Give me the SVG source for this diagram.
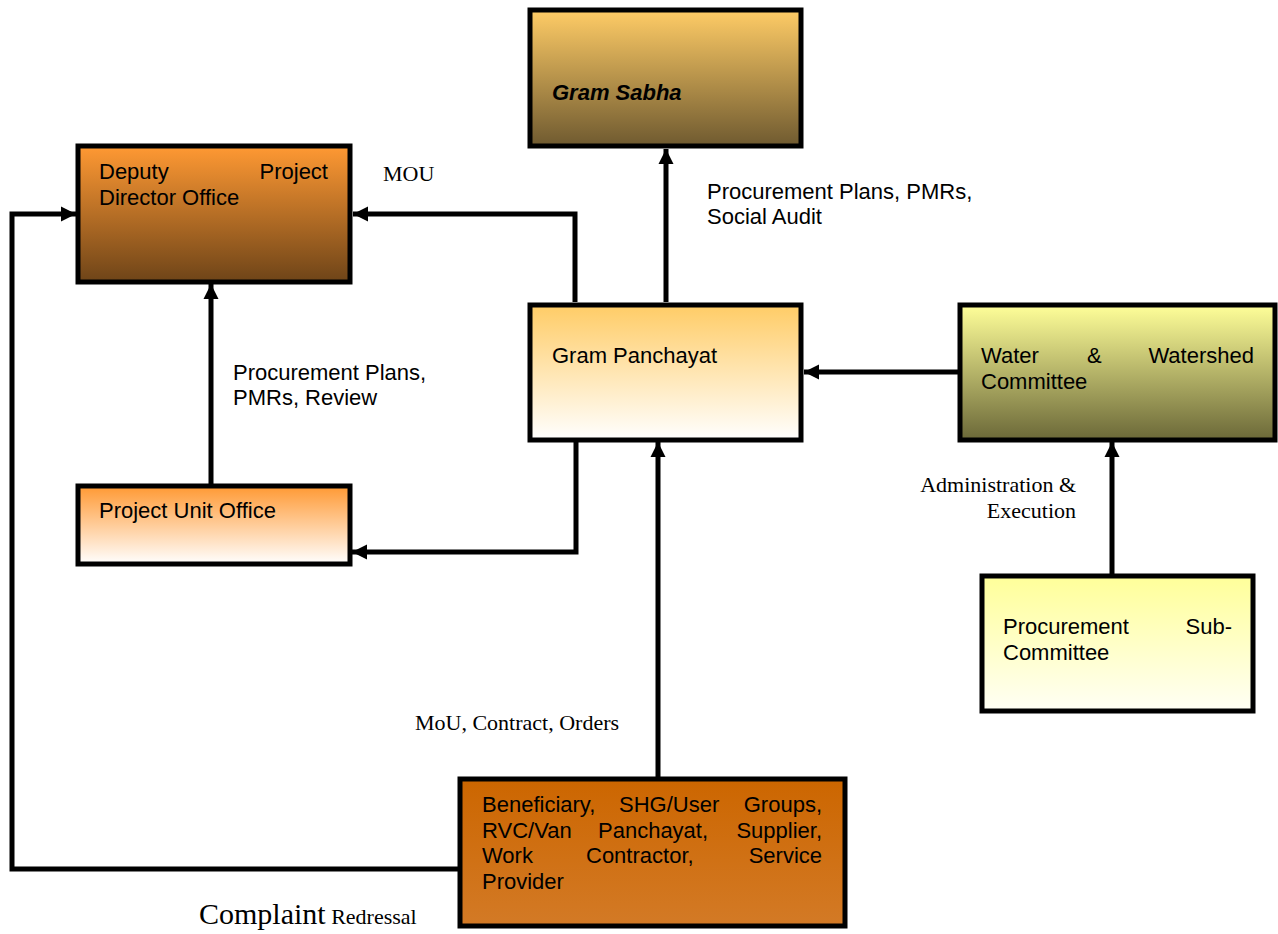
<svg xmlns="http://www.w3.org/2000/svg" width="1278" height="934" viewBox="0 0 1278 934">
<defs>
<linearGradient id="gSabha" x1="0" y1="0" x2="0" y2="1"><stop offset="0" stop-color="#FFCC66"/><stop offset="1" stop-color="#6F5A30"/></linearGradient>
<linearGradient id="gDeputy" x1="0" y1="0" x2="0" y2="1"><stop offset="0" stop-color="#FF9933"/><stop offset="1" stop-color="#6E4418"/></linearGradient>
<linearGradient id="gGP" x1="0" y1="0" x2="0" y2="1"><stop offset="0" stop-color="#FFCC66"/><stop offset="1" stop-color="#FFFFFF"/></linearGradient>
<linearGradient id="gWater" x1="0" y1="0" x2="0" y2="1"><stop offset="0" stop-color="#FFFF99"/><stop offset="1" stop-color="#6B6838"/></linearGradient>
<linearGradient id="gPUO" x1="0" y1="0" x2="0" y2="1"><stop offset="0" stop-color="#FF9933"/><stop offset="1" stop-color="#FFFFFF"/></linearGradient>
<linearGradient id="gPSC" x1="0" y1="0" x2="0" y2="1"><stop offset="0" stop-color="#FFFF99"/><stop offset="1" stop-color="#FFFFF5"/></linearGradient>
<linearGradient id="gBen" x1="0" y1="0" x2="0" y2="1"><stop offset="0" stop-color="#CC6600"/><stop offset="1" stop-color="#D37A26"/></linearGradient>
<marker id="arr" markerUnits="userSpaceOnUse" markerWidth="16" markerHeight="16" refX="15" refY="8" orient="auto" viewBox="0 0 16 16">
<path d="M0,0.5 L15,8 L0,15.5 Z" fill="#000"/>
</marker>
</defs>
<style>
.box{stroke:#000;stroke-width:5}
.t{font-family:"Liberation Sans",Arial,sans-serif;font-size:22px;fill:#000}
.s{font-family:"Liberation Serif","Times New Roman",serif;font-size:22px;fill:#000}
.c{fill:none;stroke:#000;stroke-width:5;marker-end:url(#arr)}
</style>
<rect width="1278" height="934" fill="#fff"/>

<g id="connectors">
<path class="c" d="M666,302 V149"/>
<path class="c" d="M575,302 V214 H353"/>
<path class="c" d="M576,442 V552 H352"/>
<path class="c" d="M211,486 V284"/>
<path class="c" d="M958,372 V372 H804"/>
<path class="c" d="M1112,574 V442"/>
<path class="c" d="M658,777 V442"/>
<path class="c" d="M458,869 H12 V214 H76"/>
</g>

<g id="gram-sabha">
<rect class="box" x="530" y="10" width="271" height="136" fill="url(#gSabha)"/>
<text class="t" x="552" y="100" font-weight="bold" font-style="italic">Gram Sabha</text>
</g>

<g id="deputy-project-director-office">
<rect class="box" x="78" y="146" width="272" height="136" fill="url(#gDeputy)"/>
<text class="t" x="99" y="179">Deputy</text>
<text class="t" x="328" y="179" text-anchor="end">Project</text>
<text class="t" x="99" y="205">Director Office</text>
</g>

<g id="gram-panchayat">
<rect class="box" x="530" y="305" width="271" height="135" fill="url(#gGP)"/>
<text class="t" x="552" y="363">Gram Panchayat</text>
</g>

<g id="water-watershed-committee">
<rect class="box" x="960" y="305" width="315" height="135" fill="url(#gWater)"/>
<text class="t" x="981" y="363">Water</text>
<text class="t" x="1087" y="363">&amp;</text>
<text class="t" x="1254" y="363" text-anchor="end">Watershed</text>
<text class="t" x="981" y="389">Committee</text>
</g>

<g id="project-unit-office">
<rect class="box" x="78" y="486" width="272" height="78" fill="url(#gPUO)"/>
<text class="t" x="99" y="518">Project Unit Office</text>
</g>

<g id="procurement-sub-committee">
<rect class="box" x="982" y="576" width="271" height="135" fill="url(#gPSC)"/>
<text class="t" x="1003" y="634">Procurement</text>
<text class="t" x="1232" y="634" text-anchor="end">Sub-</text>
<text class="t" x="1003" y="660">Committee</text>
</g>

<g id="beneficiary">
<rect class="box" x="460" y="779" width="385" height="147" fill="url(#gBen)"/>
<text class="t" x="482" y="812">Beneficiary,</text>
<text class="t" x="619" y="812">SHG/User</text>
<text class="t" x="822" y="812" text-anchor="end">Groups,</text>
<text class="t" x="482" y="838">RVC/Van</text>
<text class="t" x="598" y="838">Panchayat,</text>
<text class="t" x="822" y="838" text-anchor="end">Supplier,</text>
<text class="t" x="482" y="863">Work</text>
<text class="t" x="586" y="863">Contractor,</text>
<text class="t" x="822" y="863" text-anchor="end">Service</text>
<text class="t" x="482" y="889">Provider</text>
</g>

<g id="labels">
<text class="s" x="383" y="181">MOU</text>
<text class="t" x="707" y="199">Procurement Plans, PMRs,</text>
<text class="t" x="707" y="224">Social Audit</text>
<text class="t" x="233" y="380">Procurement Plans,</text>
<text class="t" x="233" y="405">PMRs, Review</text>
<text class="s" x="1076" y="492" text-anchor="end">Administration &amp;</text>
<text class="s" x="1076" y="518" text-anchor="end">Execution</text>
<text class="s" x="415" y="730">MoU, Contract, Orders</text>
<text class="s" x="199" y="924"><tspan font-size="30">Complaint</tspan> Redressal</text>
</g>
</svg>
